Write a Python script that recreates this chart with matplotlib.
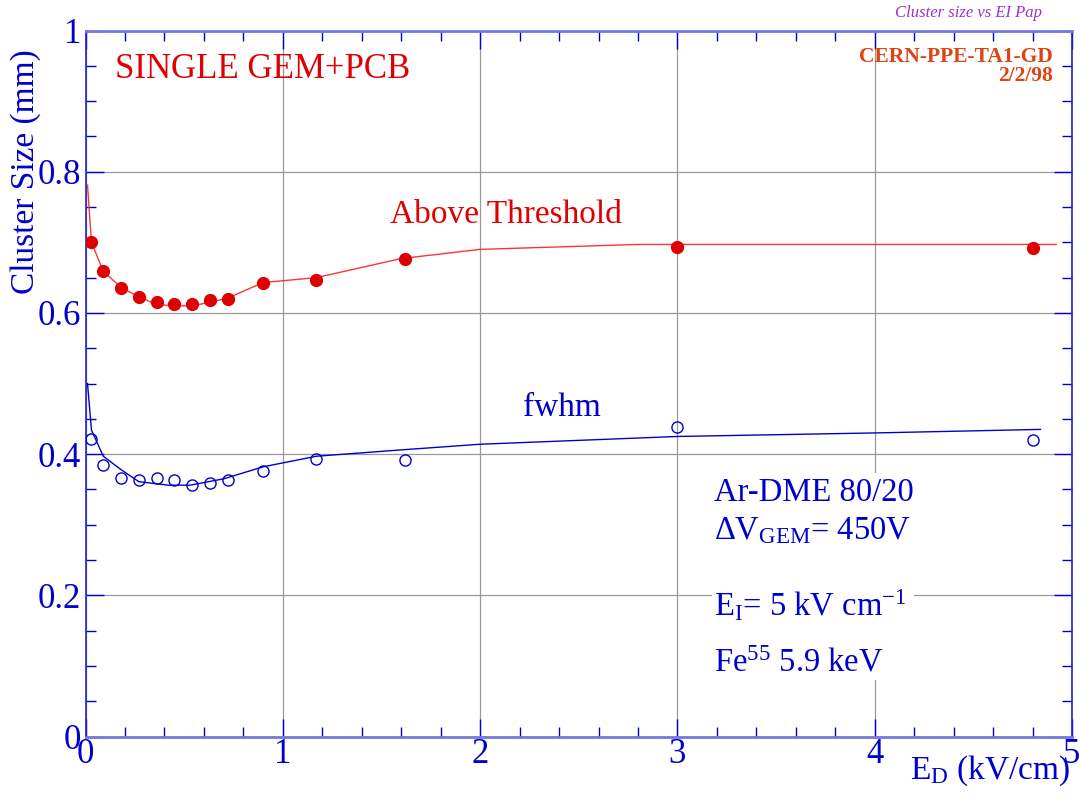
import matplotlib
matplotlib.use("Agg")
import matplotlib.pyplot as plt
from matplotlib.ticker import MultipleLocator
from matplotlib.patches import Rectangle

plt.rcParams["font.family"] = ["Liberation Serif", "DejaVu Serif"]
plt.rcParams["mathtext.fontset"] = "custom"
plt.rcParams["mathtext.rm"] = "Liberation Serif"
plt.rcParams["mathtext.it"] = "Liberation Serif:italic"

# measured points
ed = [0.03, 0.09, 0.18, 0.27, 0.36, 0.45, 0.54, 0.63, 0.72, 0.9, 1.17, 1.62, 3.0, 4.8]
above_thr = [0.701, 0.659, 0.636, 0.623, 0.616, 0.613, 0.613, 0.618, 0.620, 0.643, 0.647, 0.677, 0.693, 0.692]
fwhm = [0.421, 0.384, 0.366, 0.363, 0.366, 0.363, 0.356, 0.359, 0.363, 0.376, 0.393, 0.391, 0.438, 0.420]

# fitted curves
fit_above_x = [0.01, 0.03, 0.09, 0.18, 0.27, 0.36, 0.45, 0.54, 0.63, 0.72, 0.9, 1.17, 1.6, 2.0, 2.8, 4.92]
fit_above_y = [0.781, 0.70, 0.659, 0.636, 0.623, 0.612, 0.610, 0.610, 0.615, 0.621, 0.643, 0.650, 0.677, 0.690, 0.697, 0.697]
fit_fwhm_x = [0.01, 0.03, 0.09, 0.18, 0.27, 0.42, 0.53, 0.7, 0.9, 1.17, 1.6, 2.0, 3.0, 4.0, 4.84]
fit_fwhm_y = [0.50, 0.434, 0.397, 0.378, 0.361, 0.356, 0.356, 0.365, 0.382, 0.397, 0.406, 0.414, 0.425, 0.430, 0.435]

blue = "#0000cc"
red = "#e00000"

fig = plt.figure(figsize=(10.8, 7.99), dpi=100)
ax = fig.add_axes([0.0792, 0.0782, 0.9134, 0.8836])

ax.plot(fit_above_x, fit_above_y, color="#ff3333", lw=1, zorder=3)
ax.plot(ed, above_thr, "o", color="#dd0000", ms=8.5, zorder=4)
ax.plot(fit_fwhm_x, fit_fwhm_y, color=blue, lw=1, zorder=3)
ax.plot(ed, fwhm, "o", mfc="none", mec=blue, mew=1, ms=8, zorder=4)

ax.set_xlim(0, 5)
ax.set_ylim(0, 1)
ax.xaxis.set_major_locator(MultipleLocator(1))
ax.xaxis.set_minor_locator(MultipleLocator(0.2))
ax.yaxis.set_major_locator(MultipleLocator(0.2))
ax.yaxis.set_minor_locator(MultipleLocator(0.05))
ax.yaxis.set_major_formatter(plt.FuncFormatter(lambda v, p: f"{v:g}"))
ax.grid(True, which="major", color="#999999", lw=0.9, zorder=0)
ax.set_axisbelow(True)

ax.tick_params(which="both", direction="in", top=True, right=True, color=blue,
               labelcolor=blue, labelsize=25)
ax.tick_params(which="major", length=13, width=1)
ax.tick_params(which="minor", length=7, width=1)
ax.tick_params(axis="x", pad=1)
ax.tick_params(axis="y", pad=3)
for side in ["left", "right"]:
    ax.spines[side].set_color("#2222cc")
    ax.spines[side].set_linewidth(1.2)
for side in ["top", "bottom"]:
    ax.spines[side].set_color("#7777dd")
    ax.spines[side].set_linewidth(2)

ax.set_ylabel("Cluster Size (mm)", color=blue, fontsize=24)
ax.yaxis.label.set(ha="center", va="center")
ax.yaxis.set_label_coords(-0.061, 0.80)
ax.set_xlabel(r"E$_{\mathrm{D}}$ (kV/cm)", color=blue, fontsize=24)
ax.xaxis.label.set(ha="right", va="center")
ax.xaxis.set_label_coords(0.998, -0.048)

ax.text(0.030, 0.945, "SINGLE GEM+PCB", transform=ax.transAxes, color=red,
        fontsize=25, va="center")
ax.text(0.309, 0.739, "Above Threshold", transform=ax.transAxes, color=red,
        fontsize=24, va="center")
ax.text(0.443, 0.466, "fwhm", transform=ax.transAxes, color=blue,
        fontsize=24, va="center")

ax.add_patch(Rectangle((0.635, 0.080), 0.205, 0.293, transform=ax.transAxes,
                       facecolor="white", edgecolor="none", zorder=1))
info = dict(transform=ax.transAxes, color=blue, fontsize=23.5, va="center", zorder=5)
ax.text(0.637, 0.345, "Ar-DME 80/20", **info)
ax.text(0.637, 0.292, r"$\Delta$V$_{\mathrm{GEM}}$= 450V", **info)
ax.text(0.637, 0.185, r"E$_{\mathrm{I}}$= 5 kV cm$^{\mathrm{-1}}$", **info)
ax.text(0.637, 0.104, r"Fe$^{\mathrm{55}}$ 5.9 keV", **info)

fig.text(0.897, 0.984, "Cluster size vs EI Pap", color="#9932cc", fontsize=12,
         style="italic", ha="center", va="center")
fig.text(0.975, 0.929, "CERN-PPE-TA1-GD", color="#dd4411", fontsize=15.5,
         weight="bold", ha="right", va="center")
fig.text(0.975, 0.905, "2/2/98", color="#dd4411", fontsize=15.5,
         weight="bold", ha="right", va="center")

fig.savefig("out.png", dpi=100)
